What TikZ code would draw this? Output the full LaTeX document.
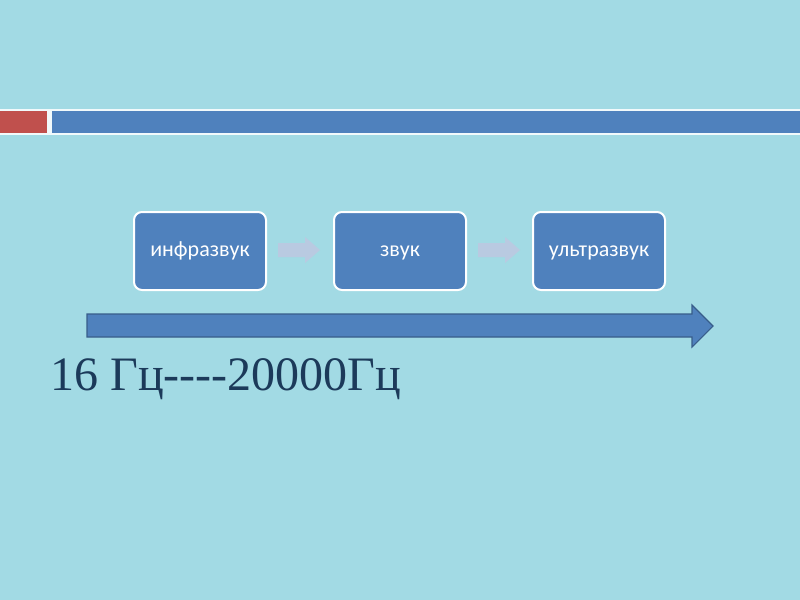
\documentclass[tikz,border=0pt]{standalone}
\usepackage{fontspec}
\setmainfont{Liberation Serif}
\newfontfamily\boxfont{Carlito}
\definecolor{bgcol}{RGB}{162,218,228}
\definecolor{accblue}{RGB}{79,129,189}
\definecolor{accred}{RGB}{192,80,77}
\definecolor{darkblue}{RGB}{56,93,138}
\definecolor{smallarr}{RGB}{185,202,225}
\definecolor{labcol}{RGB}{28,58,90}
\tikzset{
  stagebox/.style={draw=white, line width=1.5pt, fill=accblue, rounded corners=6pt,
    minimum width=99pt, minimum height=58.5pt, text=white, font=\boxfont\fontsize{16.5}{19}\selectfont,
    inner sep=0pt, text height=9pt, text depth=1.5pt},
  linkarrow/.style={fill=smallarr, draw=none}
}
\begin{document}
\begin{tikzpicture}[x=0.75pt,y=-0.75pt]
\useasboundingbox (0,0) rectangle (800,600);
\fill[bgcol] (0,0) rectangle (800,600);
% top bars
\fill[white!85!bgcol] (0,109) rectangle (800,135);
\fill[accred] (0,111) rectangle (47,133);
\fill[accblue] (52,111) rectangle (800,133);
% boxes
\node[stagebox] (infra) at (200,251) {инфразвук};
\node[stagebox] (zvuk) at (400,251) {звук};
\node[stagebox] (ultra) at (599,251) {ультразвук};
% small arrows
\path[linkarrow] (278,243) -- (305,243) -- (305,237) -- (320,250) -- (305,263) -- (305,257) -- (278,257) -- cycle;
\path[linkarrow] (478,243) -- (505,243) -- (505,237) -- (520,250) -- (505,263) -- (505,257) -- (478,257) -- cycle;
% big arrow
\draw[fill=accblue, draw=darkblue, line width=0.8pt] (87,314) -- (692,314) -- (692,305) -- (713,326) -- (692,347) -- (692,337) -- (87,337) -- cycle;
% label
\node[anchor=base west, text=labcol, font=\fontsize{36}{40}\selectfont, inner sep=0pt] (freq) at (50,390) {16 Гц-{}-{}-{}-20000Гц};
\end{tikzpicture}
\end{document}
